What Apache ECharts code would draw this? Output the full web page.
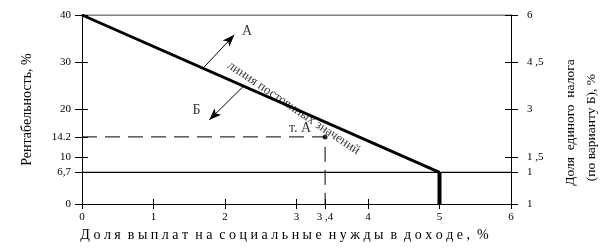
<!DOCTYPE html>
<html>
<head>
<meta charset="utf-8">
<script src="https://cdn.jsdelivr.net/npm/echarts@6/dist/echarts.min.js"></script>
<style>html,body{margin:0;padding:0;background:#fff}#c{width:610px;height:250px}</style>
</head>
<body>
<div id="c"></div>
<script>
// ---- data ----
const xTicks = [0, 1, 2, 3, 3.4, 4, 5, 6];
const xTickLabels = ['0', '1', '2', '3', '3 ,4', '4', '5', '6'];
const leftTicks = [0, 6.7, 10, 14.2, 20, 30, 40];
const leftTickLabels = ['0', '6,7', '10', '14.2', '20', '30', '40'];
const rightTicks = [0, 6.7, 10, 20, 30, 40];
const rightTickLabels = ['1', '1', '1 ,5', '3', '4 ,5', '6'];
const constLine = [[0, 40], [5, 6.7]];          // линия постоянных значений
const limitBar = [[5, 6.7], [5, 0]];            // граница при 5 %
const levelTop = [[0, 40], [6, 40]];
const levelMin = [[0, 6.7], [6, 6.7]];
const pointA = [3.4, 14.2];                      // т. А
const dashPath = [[0, 14.2], [3.4, 14.2], [3.4, 0]];
const arrowA = [[1.71, 29.0], [2.13, 35.8]];
const arrowB = [[2.25, 24.8], [1.78, 17.8]];
const labelA = [2.31, 36.6];
const labelB = [1.6, 19.9];
const labelPointA = [3.05, 16.1];
const labelLine = [2.96, 20.3];

const xTitleWords = ['Доля', 'выплат', 'на', 'социальные', 'нужды', 'в', 'доходе,', '%'];
const xTitle = xTitleWords.map(w => w.split('').join(' ')).join('  ');

function pick(vals, labels) {
  return function (v) {
    for (let i = 0; i < vals.length; i++) if (Math.abs(vals[i] - v) < 1e-6) return labels[i];
    return '';
  };
}

const FONT = 'Liberation Serif';
const chart = echarts.init(document.getElementById('c'), null, { renderer: 'canvas' });
const blk = { color: '#000', width: 1 };

const baseX = { type: 'value', min: 0, max: 6, splitLine: { show: false } };
const baseY = { type: 'value', min: 0, max: 40, splitLine: { show: false } };

chart.setOption({
  animation: false,
  backgroundColor: '#fff',
  textStyle: { fontFamily: FONT, color: '#000' },
  grid: { left: 82, right: 99, top: 15, bottom: 46 },
  xAxis: [
    Object.assign({}, baseX, {
      position: 'bottom',
      axisLine: { show: true, lineStyle: blk },
      axisTick: { show: true, length: 5, lineStyle: blk, customValues: xTicks },
      axisLabel: { show: true, customValues: xTicks, formatter: pick(xTicks, xTickLabels),
        color: '#000', fontFamily: FONT, fontSize: 11, margin: 8 },
      name: xTitle, nameLocation: 'middle', nameGap: 23,
      nameTextStyle: { fontFamily: FONT, fontSize: 14, color: '#000', padding: [0, 24, 0, 0] }
    }),
    Object.assign({}, baseX, {
      position: 'bottom',
      axisLine: { show: false },
      axisTick: { show: true, inside: true, length: 5, lineStyle: blk, customValues: xTicks },
      axisLabel: { show: false }
    })
  ],
  yAxis: [
    Object.assign({}, baseY, {
      position: 'left',
      axisLine: { show: true, lineStyle: blk },
      axisTick: { show: true, length: 7, lineStyle: blk, customValues: leftTicks },
      axisLabel: { show: true, customValues: leftTicks, formatter: pick(leftTicks, leftTickLabels),
        color: '#000', fontFamily: FONT, fontSize: 11, margin: 11, padding: [0, 0, 4, 0] },
      name: 'Рентабельность, %', nameLocation: 'middle', nameGap: 48,
      nameTextStyle: { fontFamily: FONT, fontSize: 14, color: '#000' }
    }),
    Object.assign({}, baseY, {
      position: 'left',
      axisLine: { show: false },
      axisTick: { show: true, inside: true, length: 6, lineStyle: blk, customValues: leftTicks },
      axisLabel: { show: false }
    }),
    Object.assign({}, baseY, {
      position: 'right',
      axisLine: { show: true, lineStyle: blk },
      axisTick: { show: true, length: 7, lineStyle: blk, customValues: rightTicks },
      axisLabel: { show: true, customValues: rightTicks, formatter: pick(rightTicks, rightTickLabels),
        color: '#000', fontFamily: FONT, fontSize: 11, margin: 16, padding: [0, 0, 4, 0] },
      name: 'Доля  единого  налога\n(по варианту Б), %   ', nameLocation: 'middle', nameGap: 49,
      nameRotate: 90,
      nameTextStyle: { fontFamily: FONT, fontSize: 13.5, color: '#000', lineHeight: 21, padding: [0, 26, 0, 0] }
    }),
    Object.assign({}, baseY, {
      position: 'right',
      axisLine: { show: false },
      axisTick: { show: true, inside: true, length: 6, lineStyle: blk, customValues: rightTicks },
      axisLabel: { show: false }
    })
  ],
  series: [
    { type: 'line', data: levelTop, symbol: 'none', lineStyle: { color: '#000', width: 1.2 }, silent: true },
    { type: 'line', data: levelMin, symbol: 'none', lineStyle: { color: '#000', width: 1.2 }, silent: true },
    { type: 'line', data: dashPath, symbol: 'none',
      lineStyle: { color: '#000', width: 1, type: [15, 8] }, silent: true },
    { type: 'line', data: constLine, symbol: 'none', lineStyle: { color: '#000', width: 3 }, silent: true },
    { type: 'line', data: limitBar, symbol: 'none', lineStyle: { color: '#000', width: 4 }, silent: true },
    { type: 'scatter', data: [pointA], symbol: 'circle', symbolSize: 5, itemStyle: { color: '#000' } },
    { type: 'line', data: [], silent: true,
      markLine: {
        silent: true, symbol: ['none', 'arrow'], symbolSize: [7, 12],
        lineStyle: { color: '#000', width: 1, type: 'solid' }, label: { show: false },
        data: [
          [{ coord: arrowA[0] }, { coord: arrowA[1] }],
          [{ coord: arrowB[0] }, { coord: arrowB[1] }]
        ]
      }
    },
    { type: 'scatter', symbolSize: 0, data: [labelA],
      label: { show: true, formatter: 'А', position: 'inside', color: '#000', fontFamily: FONT, fontSize: 14 } },
    { type: 'scatter', symbolSize: 0, data: [labelB],
      label: { show: true, formatter: 'Б', position: 'inside', color: '#000', fontFamily: FONT, fontSize: 14 } },
    { type: 'scatter', symbolSize: 0, data: [labelPointA],
      label: { show: true, formatter: 'т. А', position: 'inside', color: '#000', fontFamily: FONT, fontSize: 14 } },
    { type: 'scatter', symbolSize: 0, data: [labelLine],
      label: { show: true, formatter: 'линия постоянных значений', position: 'inside', rotate: -34,
        color: '#000', fontFamily: FONT, fontSize: 13 } }
  ]
});
</script>
</body>
</html>
